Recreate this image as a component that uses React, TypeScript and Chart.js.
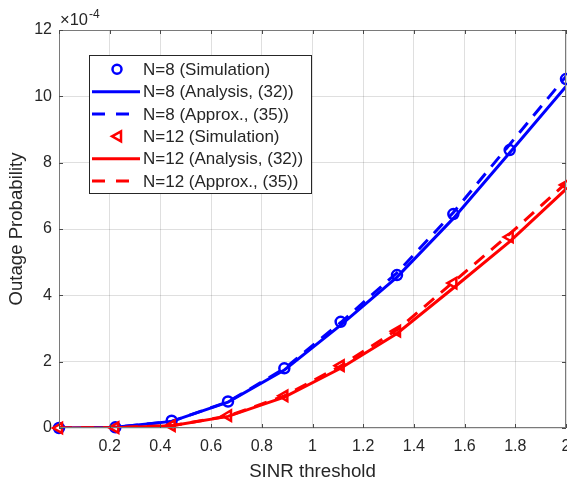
import React, { useEffect, useRef } from 'react';
import { Chart, registerables } from 'chart.js';

Chart.register(...registerables);

// SINR threshold values (x axis)
const sinr = [0, 0.2222, 0.4444, 0.6667, 0.8889, 1.1111, 1.3333, 1.5556, 1.7778, 2.0];
// Outage probability, in units of 1e-4
const n8Sim = [0, 0.02, 0.22, 0.8, 1.8, 3.2, 4.61, 6.45, 8.38, 10.52];
const n8Ana = [0, 0.02, 0.2, 0.78, 1.75, 3.1, 4.55, 6.32, 8.3, 10.3];
const n8Apx = [0, 0.02, 0.2, 0.79, 1.79, 3.18, 4.68, 6.5, 8.55, 10.6];
const n12Sim = [0, 0.01, 0.07, 0.37, 0.97, 1.88, 2.92, 4.37, 5.76, 7.33];
const n12Ana = [0, 0.01, 0.07, 0.35, 0.93, 1.8, 2.85, 4.22, 5.62, 7.2];
const n12Apx = [0, 0.01, 0.07, 0.36, 0.97, 1.87, 2.96, 4.4, 5.85, 7.38];
const yTicks = [0, 2, 4, 6, 8, 10, 12];
const xTicks = [0, 0.2, 0.4, 0.6, 0.8, 1, 1.2, 1.4, 1.6, 1.8, 2];
const labels = [
  'N=8 (Simulation)',
  'N=8 (Analysis, (32))',
  'N=8 (Approx., (35))',
  'N=12 (Simulation)',
  'N=12 (Analysis, (32))',
  'N=12 (Approx., (35))',
];

const BLUE = '#0000ff';
const RED = '#ff0000';
const AX = '#262626';
const BOX = '#7a7a7a';
const FONT = '"Liberation Sans", Arial, Helvetica, sans-serif';

const pts = (ys: number[]) => sinr.map((x, i) => ({ x, y: ys[i] }));

const decorPlugin = {
  id: 'decor',
  afterDraw(chart: any) {
    const { ctx, chartArea: a, scales } = chart;
    const xs = scales.x;
    const ys = scales.y;
    ctx.save();
    // axes box
    ctx.strokeStyle = BOX;
    ctx.lineWidth = 1;
    ctx.strokeRect(Math.round(a.left) + 0.5, Math.round(a.top) + 0.5, Math.round(a.right - a.left) - 1, Math.round(a.bottom - a.top) - 1);
    // inward ticks
    const tl = 4;
    ctx.strokeStyle = '#4a4a4a';
    ctx.beginPath();
    xTicks.forEach((v) => {
      const px = Math.round(xs.getPixelForValue(v)) + 0.5;
      ctx.moveTo(px, a.bottom);
      ctx.lineTo(px, a.bottom - tl);
      ctx.moveTo(px, a.top);
      ctx.lineTo(px, a.top + tl);
    });
    yTicks.forEach((v) => {
      const py = Math.round(ys.getPixelForValue(v)) + 0.5;
      ctx.moveTo(a.left, py);
      ctx.lineTo(a.left + tl, py);
      ctx.moveTo(a.right, py);
      ctx.lineTo(a.right - tl, py);
    });
    ctx.stroke();

    // exponent label
    ctx.fillStyle = AX;
    ctx.textBaseline = 'alphabetic';
    ctx.textAlign = 'left';
    ctx.font = `16.5px ${FONT}`;
    const ex = a.left + 1;
    ctx.fillText('\u00d710', ex, a.top - 5);
    const w = ctx.measureText('\u00d710').width;
    ctx.font = `12px ${FONT}`;
    ctx.fillText('-4', ex + w + 1, a.top - 12);

    // legend
    const bx = a.left + 30;
    const by = a.top + 25;
    const bw = 222;
    const bh = 138;
    ctx.fillStyle = '#ffffff';
    ctx.fillRect(bx, by, bw, bh);
    ctx.strokeStyle = AX;
    ctx.lineWidth = 1;
    ctx.strokeRect(bx + 0.5, by + 0.5, bw, bh);
    const rowH = 22.35;
    const styles = [
      { c: BLUE, kind: 'circle' },
      { c: BLUE, kind: 'solid' },
      { c: BLUE, kind: 'dash' },
      { c: RED, kind: 'tri' },
      { c: RED, kind: 'solid' },
      { c: RED, kind: 'dash' },
    ];
    ctx.font = `17px ${FONT}`;
    ctx.textBaseline = 'middle';
    styles.forEach((s, i) => {
      const cy = by + 14.3 + i * rowH;
      const x0 = bx + 3;
      const x1 = bx + 51;
      const mx = bx + 28;
      ctx.strokeStyle = s.c;
      if (s.kind === 'solid' || s.kind === 'dash') {
        ctx.lineWidth = 3;
        ctx.setLineDash(s.kind === 'dash' ? [13, 11] : []);
        ctx.beginPath();
        ctx.moveTo(x0, cy);
        ctx.lineTo(x1, cy);
        ctx.stroke();
        ctx.setLineDash([]);
      } else if (s.kind === 'circle') {
        ctx.lineWidth = 2.5;
        ctx.beginPath();
        ctx.arc(mx, cy, 4.5, 0, Math.PI * 2);
        ctx.stroke();
      } else {
        ctx.lineWidth = 2.5;
        ctx.beginPath();
        ctx.moveTo(mx - 5, cy);
        ctx.lineTo(mx + 4, cy - 5);
        ctx.lineTo(mx + 4, cy + 5);
        ctx.closePath();
        ctx.stroke();
      }
      ctx.fillStyle = AX;
      ctx.fillText(labels[i], bx + 54, cy + 1);
    });
    ctx.restore();
  },
};

export default function App() {
  const ref = useRef<HTMLCanvasElement | null>(null);
  useEffect(() => {
    if (!ref.current) return;
    const lineDs = (label: string, ys: number[], color: string, dashed: boolean, order: number) => ({
      label,
      data: pts(ys),
      borderColor: color,
      backgroundColor: color,
      borderWidth: 3,
      borderDash: dashed ? [13, 9] : [],
      pointRadius: 0,
      showLine: true,
      fill: false,
      tension: 0,
      order,
    });
    const simDs = (label: string, ys: number[], color: string, style: string, rot: number, r: number, order: number) => ({
      label,
      data: pts(ys),
      borderColor: color,
      backgroundColor: 'rgba(0,0,0,0)',
      borderWidth: 2.5,
      pointStyle: style,
      pointRotation: rot,
      pointRadius: r,
      showLine: false,
      clip: false,
      order,
    });
    const chart = new Chart(ref.current, {
      type: 'scatter',
      data: {
        datasets: [
          simDs(labels[0], n8Sim, BLUE, 'circle', 0, 5, 5),
          lineDs(labels[1], n8Ana, BLUE, false, 4),
          lineDs(labels[2], n8Apx, BLUE, true, 3),
          simDs(labels[3], n12Sim, RED, 'triangle', -90, 6, 2),
          lineDs(labels[4], n12Ana, RED, false, 1),
          lineDs(labels[5], n12Apx, RED, true, 0),
        ] as any,
      },
      options: {
        responsive: false,
        animation: false,
        layout: { autoPadding: false, padding: { top: 30, right: 1, left: 0, bottom: 0 } },
        plugins: { legend: { display: false }, tooltip: { enabled: false } },
        scales: {
          x: {
            type: 'linear',
            min: 0,
            max: 2,
            afterBuildTicks: (s: any) => {
              s.ticks = xTicks.map((v) => ({ value: v }));
            },
            afterFit: (s: any) => {
              s.height = 57;
              s.paddingLeft = 0;
              s.paddingRight = 0;
            },
            ticks: {
              color: AX,
              font: { family: FONT, size: 16 },
              padding: 9,
              maxRotation: 0,
              autoSkip: false,
              callback: (v: any) => (v === 0 ? '' : String(Number(Number(v).toFixed(1)))),
            },
            grid: { color: 'rgba(38,38,38,0.15)', drawTicks: false },
            border: { display: false },
            title: {
              display: true,
              text: 'SINR threshold',
              color: AX,
              font: { family: FONT, size: 18.7 },
              padding: { top: 0, bottom: 2 },
            },
          },
          y: {
            type: 'linear',
            min: 0,
            max: 12,
            afterBuildTicks: (s: any) => {
              s.ticks = yTicks.map((v) => ({ value: v }));
            },
            afterFit: (s: any) => {
              s.width = 59;
              s.paddingTop = 0;
              s.paddingBottom = 0;
            },
            ticks: {
              color: AX,
              font: { family: FONT, size: 16 },
              padding: 7,
              callback: (v: any) => String(v),
            },
            grid: { color: 'rgba(38,38,38,0.15)', drawTicks: false },
            border: { display: false },
            title: {
              display: true,
              text: 'Outage Probability',
              color: AX,
              font: { family: FONT, size: 18.6 },
              padding: { top: 6, bottom: 0 },
            },
          },
        },
      },
      plugins: [decorPlugin],
    } as any);
    return () => chart.destroy();
  }, []);
  return (
    <div style={{ position: 'absolute', left: 0, top: 0, width: 567, height: 485, background: '#fff' }}>
      <canvas ref={ref} width={567} height={485} style={{ display: 'block', width: 567, height: 485 }} />
    </div>
  );
}
